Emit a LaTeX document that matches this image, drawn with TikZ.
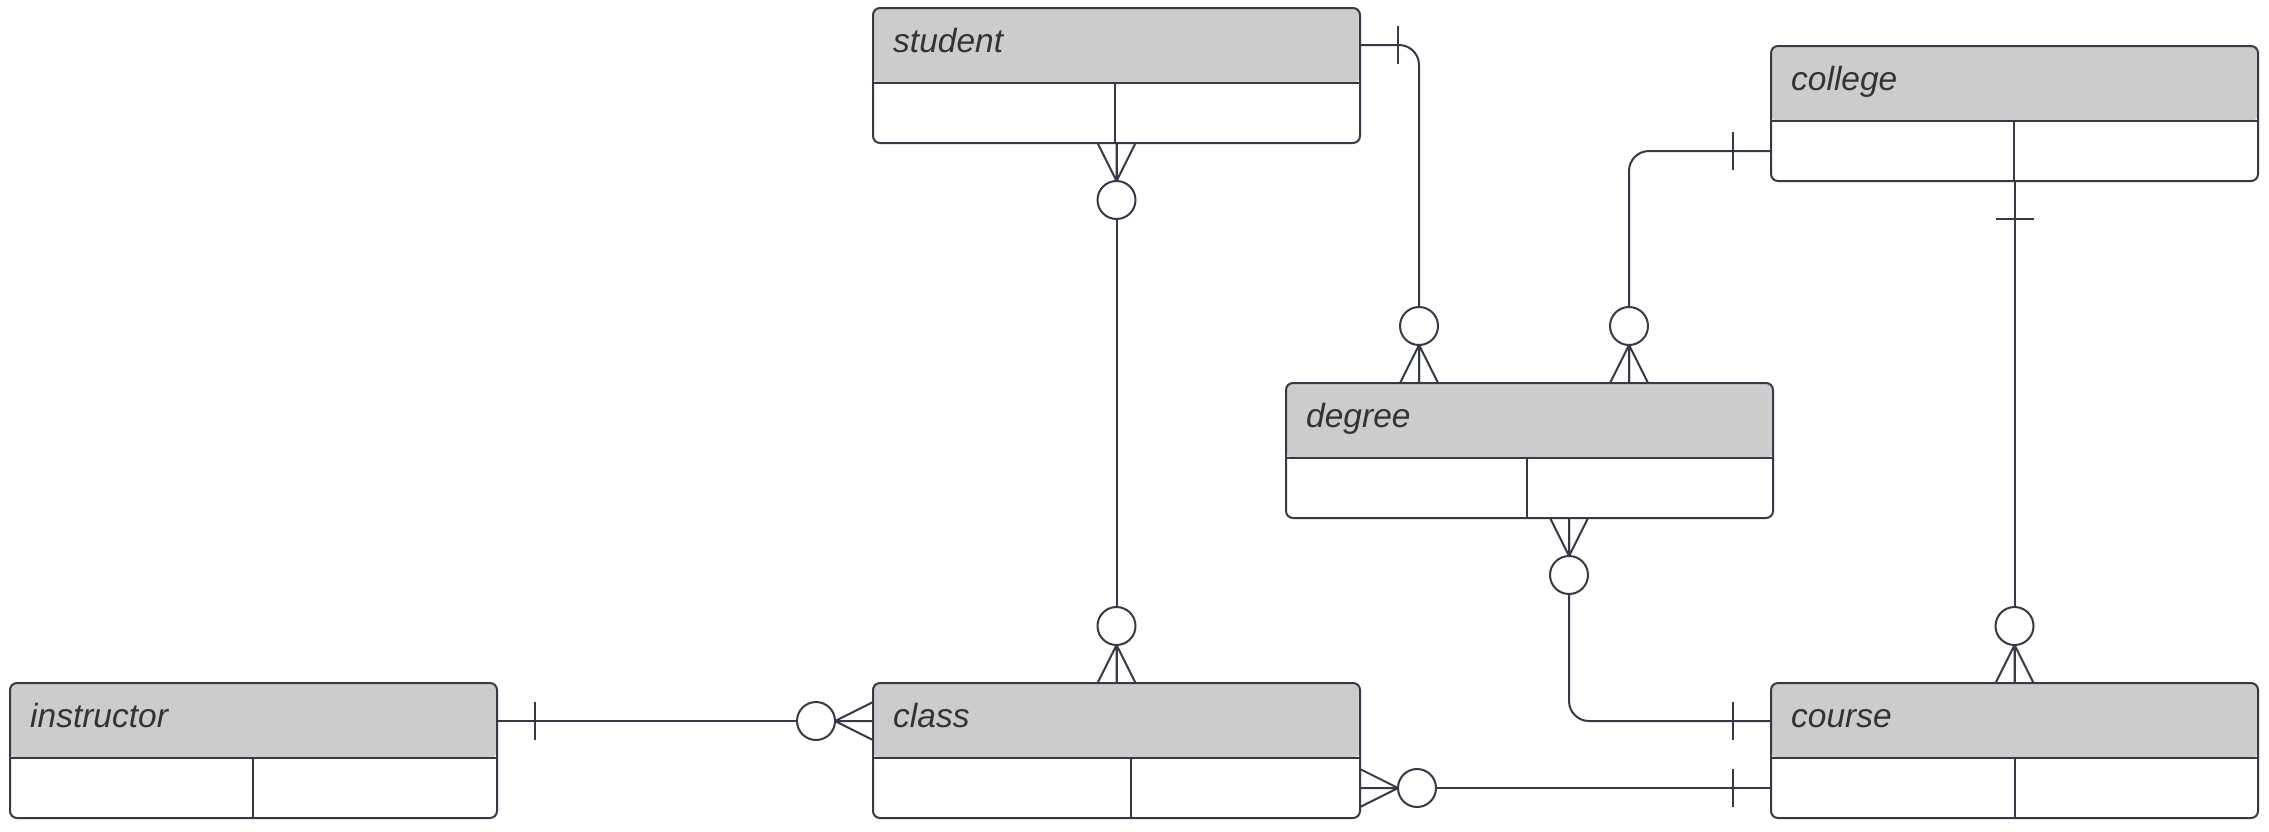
\documentclass[tikz,border=0pt]{standalone}
\usepackage{fontspec}
\setmainfont{Liberation Sans}
\usetikzlibrary{calc}
\definecolor{ln}{HTML}{353A46}
\definecolor{hdr}{HTML}{CCCCCC}
\definecolor{txt}{HTML}{333333}
\tikzset{
  entity/.style={draw=ln, line width=2pt, rounded corners=7pt,
    minimum width=487pt, minimum height=135pt, inner sep=0pt, outer sep=0pt, fill=white,
    path picture={\fill[hdr] (path picture bounding box.north west) rectangle ([yshift=-75pt]path picture bounding box.north east);}},
  hline/.style={draw=ln, line width=2pt},
  dline/.style={draw=ln, line width=1.6pt},
  thindline/.style={draw=ln, line width=1.1pt},
  elabel/.style={anchor=base west, inner sep=0pt, text=txt, font=\fontsize{33.5}{40}\selectfont\itshape},
  conn/.style={draw=ln, line width=2pt},
  tickline/.style={draw=ln, line width=1.5pt},
  zmany/.pic={
    \draw[conn] (0,-19) -- (38,0) -- (0,19) (0,0) -- (38,0);
    \draw[conn, fill=white] (57,0) circle[radius=19pt];
  },
  onebar/.pic={\draw[tickline] (38,-19) -- (38,19);}
}
\newcommand\entity[5][dline]{%
  \node[entity] (#2) at (#3) {};
  \draw[hline] ($(#2.north west)+(0,75)$) -- ($(#2.north east)+(0,75)$);
  \draw[#1] ($(#2.north west)+(#4,75)$) -- ($(#2.south west)+(#4,0)$);
  \node[elabel] (#2-label) at ($(#2.north west)+(20,44)$) {#5};
}
\begin{document}
\begin{tikzpicture}[x=1pt, y=-1pt]
\useasboundingbox (0,0) rectangle (2269,831);
\entity{student}{1116.5,75.5}{242}{student}
\entity{college}{2014.5,113.5}{243}{college}
\entity[thindline]{degree}{1529.5,450.5}{241}{degree}
\entity[thindline]{instructor}{253.5,750.5}{243}{instructor}
\entity{class}{1116.5,750.5}{258}{class}
\entity{course}{2014.5,750.5}{244}{course}

% student -- class
\draw[conn] (student.south) -- (class.north);
\pic[rotate=-90] at (student.south) {zmany};
\pic[rotate=90] at (class.north) {zmany};

% student -- degree
\coordinate (s-out) at ($(student.north east)+(0,37)$);
\coordinate (d-in1) at ($(degree.north west)+(133,0)$);
\draw[conn, rounded corners=20pt] (s-out) -| (d-in1);
\pic at (s-out) {onebar};
\pic[rotate=90] at (d-in1) {zmany};

% college -- degree
\coordinate (c-out) at ($(college.north west)+(0,105)$);
\coordinate (d-in2) at ($(degree.north west)+(343,0)$);
\draw[conn, rounded corners=20pt] (c-out) -| (d-in2);
\pic[rotate=180] at (c-out) {onebar};
\pic[rotate=90] at (d-in2) {zmany};

% college -- course
\draw[conn] (college.south) -- (course.north);
\pic[rotate=-90] at (college.south) {onebar};
\pic[rotate=90] at (course.north) {zmany};

% degree -- course
\coordinate (d-out) at ($(degree.south west)+(283,0)$);
\coordinate (co-in1) at ($(course.north west)+(0,38)$);
\draw[conn, rounded corners=20pt] (d-out) |- (co-in1);
\pic[rotate=-90] at (d-out) {zmany};
\pic[rotate=180] at (co-in1) {onebar};

% class -- course
\coordinate (cl-out) at ($(class.north east)+(0,105)$);
\coordinate (co-in2) at ($(course.north west)+(0,105)$);
\draw[conn] (cl-out) -- (co-in2);
\pic at (cl-out) {zmany};
\pic[rotate=180] at (co-in2) {onebar};

% instructor -- class
\coordinate (i-out) at ($(instructor.north east)+(0,38)$);
\coordinate (cl-in) at ($(class.north west)+(0,38)$);
\draw[conn] (i-out) -- (cl-in);
\pic at (i-out) {onebar};
\pic[rotate=180] at (cl-in) {zmany};
\end{tikzpicture}
\end{document}
